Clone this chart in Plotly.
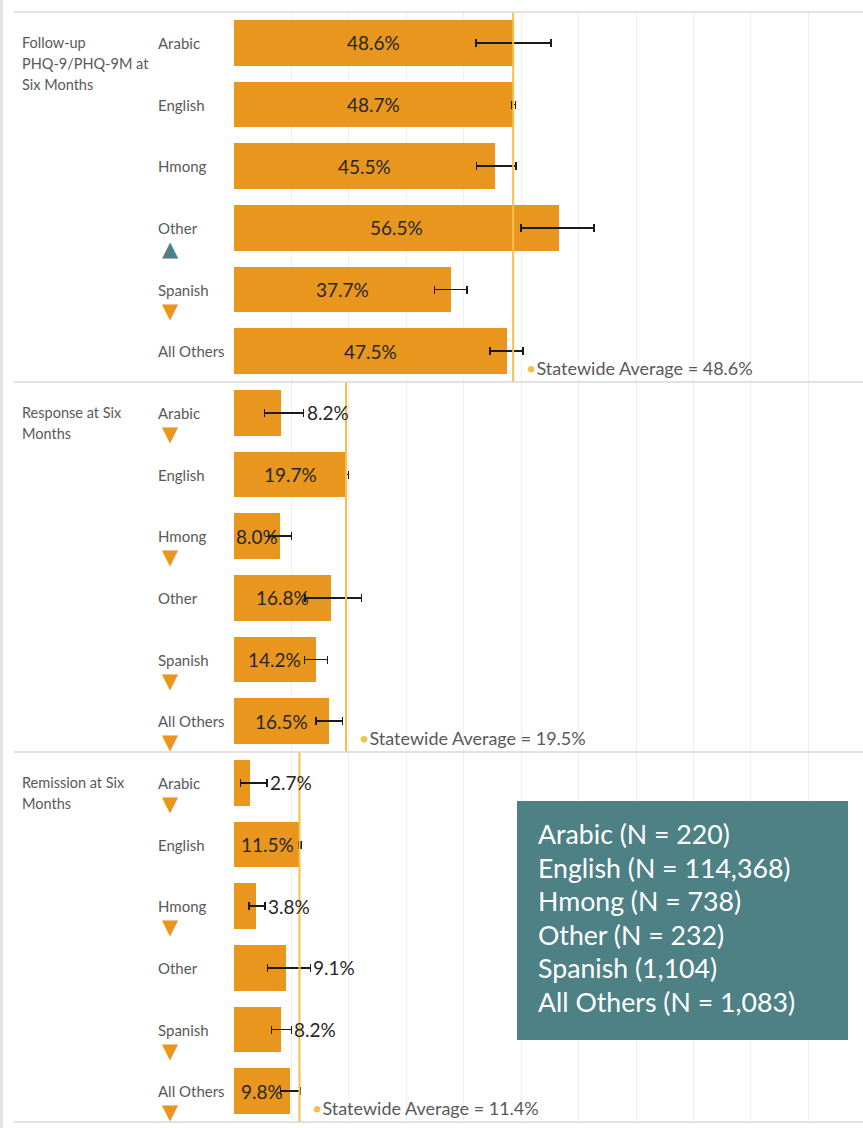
import plotly.graph_objects as go
from plotly.subplots import make_subplots

# ---------------- data ----------------
LANGS = ["Arabic", "English", "Hmong", "Other", "Spanish", "All Others"]
METRIC_TITLES = [["Follow-up", "PHQ-9/PHQ-9M at", "Six Months"],
                 ["Response at Six", "Months"],
                 ["Remission at Six", "Months"]]

FOLLOWUP = [48.6, 48.7, 45.5, 56.5, 37.7, 47.5]
FOLLOWUP_LO = [42.1, 48.4, 42.2, 50.0, 34.9, 44.6]
FOLLOWUP_HI = [55.2, 49.0, 49.1, 62.7, 40.6, 50.3]

RESPONSE = [8.2, 19.7, 8.0, 16.8, 14.2, 16.5]
RESPONSE_LO = [5.3, 19.5, 6.0, 12.4, 12.3, 14.3]
RESPONSE_HI = [12.1, 19.9, 10.0, 22.2, 16.3, 18.9]

REMISSION = [2.7, 11.5, 3.8, 9.1, 8.2, 9.8]
REMISSION_LO = [1.1, 11.3, 2.6, 5.8, 6.5, 8.1]
REMISSION_HI = [5.7, 11.7, 5.4, 13.3, 10.0, 11.6]

STATEWIDE = [48.6, 19.5, 11.4]

# trend markers: "up", "down" or ""
TREND_FOLLOWUP = ["", "", "", "up", "down", ""]
TREND_RESPONSE = ["down", "", "down", "", "down", "down"]
TREND_REMISSION = ["down", "", "down", "", "down", "down"]

N_LABELS = ["Arabic (N = 220)", "English (N = 114,368)", "Hmong (N = 738)",
            "Other (N = 232)", "Spanish (1,104)", "All Others (N = 1,083)"]

# labels drawn to the right of the error bar (metric index, language)
OUTSIDE_LABELS = {(1, "Arabic"), (2, "Arabic"), (2, "Hmong"), (2, "Other"), (2, "Spanish")}

# ---------------- style ----------------
BAR = "#E8961E"
TEAL = "#4D8185"
AVG = "#F0C24B"
GRAY_TXT = "#595959"
FONT = "Lato"

W, H = 863, 1128
ML, MR, MT, MB = 234, 0, 12, 6
PW = W - ML - MR
PH = H - MT - MB
XMAX = 109.5


def px_x(p):
    return (p - ML) / PW


def px_y(p):
    return (H - MB - p) / PH


metrics = [
    (FOLLOWUP, FOLLOWUP_LO, FOLLOWUP_HI, TREND_FOLLOWUP),
    (RESPONSE, RESPONSE_LO, RESPONSE_HI, TREND_RESPONSE),
    (REMISSION, REMISSION_LO, REMISSION_HI, TREND_REMISSION),
]

fig = make_subplots(rows=3, cols=1, shared_xaxes=False, vertical_spacing=0)

annotations = []
shapes = []

for i, (vals, lo, hi, trend) in enumerate(metrics):
    row = i + 1
    sfx = "" if i == 0 else str(row)
    xref, yref = "x" + sfx, "y" + sfx
    plus = [h - v for v, h in zip(vals, hi)]
    minus = [v - l for v, l in zip(vals, lo)]
    fig.add_trace(go.Bar(
        x=vals, y=LANGS, orientation="h", width=0.745,
        marker=dict(color=BAR, line=dict(width=0)),
        error_x=dict(type="data", symmetric=False, array=plus, arrayminus=minus,
                     color="#1a1a1a", thickness=1.6, width=4),
        showlegend=False, hoverinfo="skip",
    ), row=row, col=1)

    # value labels
    for lang, v, h in zip(LANGS, vals, hi):
        txt = f"{v:.1f}%"
        if (i, lang) in OUTSIDE_LABELS:
            annotations.append(dict(x=h, y=lang, xref=xref, yref=yref, text=txt,
                                    xanchor="left", yanchor="middle", xshift=1,
                                    showarrow=False,
                                    font=dict(family=FONT, size=19, color="#262626")))
        else:
            annotations.append(dict(x=v / 2, y=lang, xref=xref, yref=yref, text=txt,
                                    xanchor="center", yanchor="middle",
                                    showarrow=False,
                                    font=dict(family=FONT, size=19, color="#262626")))

    # language labels and trend triangles
    for lang, t in zip(LANGS, trend):
        annotations.append(dict(x=px_x(156), y=lang, xref="paper", yref=yref, text=lang,
                                xanchor="left", yanchor="middle", showarrow=False,
                                font=dict(family=FONT, size=15, color=GRAY_TXT)))
        if t:
            annotations.append(dict(x=px_x(170), y=lang, xref="paper", yref=yref,
                                    text="▲" if t == "up" else "▼",
                                    xanchor="center", yanchor="middle", yshift=-21,
                                    showarrow=False,
                                    font=dict(family="DejaVu Sans", size=21,
                                              color=TEAL if t == "up" else BAR)))

    # metric title (one annotation per line for exact line spacing)
    for k, line in enumerate(METRIC_TITLES[i]):
        annotations.append(dict(x=px_x(20), y=LANGS[0], xref="paper", yref=yref,
                                text=line, xanchor="left", yanchor="middle",
                                yshift=-21 * k, align="left", showarrow=False,
                                font=dict(family=FONT, size=14.5, color=GRAY_TXT)))

    # statewide average line + label
    avg = STATEWIDE[i]
    shapes.append(dict(type="line", xref=xref, yref=yref + " domain",
                       x0=avg, x1=avg, y0=0, y1=1,
                       line=dict(color=AVG, width=2)))
    annotations.append(dict(x=avg, y=0, xref=xref, yref=yref + " domain",
                            text=f"<span style='color:{AVG}'>•</span>"
                                 f"Statewide Average = {avg:.1f}%",
                            xanchor="left", yanchor="bottom", xshift=11, yshift=1,
                            showarrow=False,
                            font=dict(family=FONT, size=18, color=GRAY_TXT)))

    fig.update_xaxes(range=[0, XMAX], dtick=10, tick0=0, showgrid=True,
                     gridcolor="#F0F0F0", gridwidth=1, zeroline=False,
                     showticklabels=False, showline=False, ticks="",
                     row=row, col=1)
    fig.update_yaxes(categoryorder="array", categoryarray=LANGS,
                     range=[5.5, -0.5], showticklabels=False, showgrid=False,
                     zeroline=False, showline=False, ticks="",
                     row=row, col=1)

# panel separators
for yp in [0, 1 / 3, 2 / 3, 1]:
    shapes.append(dict(type="line", xref="paper", yref="paper",
                       x0=px_x(14), x1=1, y0=yp, y1=yp,
                       line=dict(color="#D9D9D9", width=1.5)))
# left edge strip
shapes.append(dict(type="rect", xref="paper", yref="paper",
                   x0=px_x(0), x1=px_x(3), y0=px_y(1128), y1=px_y(0),
                   fillcolor="#E3E3E3", line=dict(width=0), layer="below"))

# N box
shapes.append(dict(type="rect", xref="paper", yref="paper",
                   x0=px_x(517), x1=px_x(848), y0=px_y(1040), y1=px_y(801),
                   fillcolor=TEAL, line=dict(width=0), layer="above"))
for k, lab in enumerate(N_LABELS):
    annotations.append(dict(x=px_x(536), y=px_y(834 + 33.6 * k), xref="paper", yref="paper",
                            text=lab, xanchor="left", yanchor="middle", showarrow=False,
                            font=dict(family=FONT, size=26.7, color="white")))

fig.update_layout(
    width=W, height=H,
    margin=dict(l=ML, r=MR, t=MT, b=MB),
    paper_bgcolor="white", plot_bgcolor="white",
    bargap=0, showlegend=False,
    annotations=annotations, shapes=shapes,
    font=dict(family=FONT),
)

fig.write_html("out.html", config={"displayModeBar": False},
               post_script="document.body.style.margin='0';document.body.style.overflow='hidden';")
